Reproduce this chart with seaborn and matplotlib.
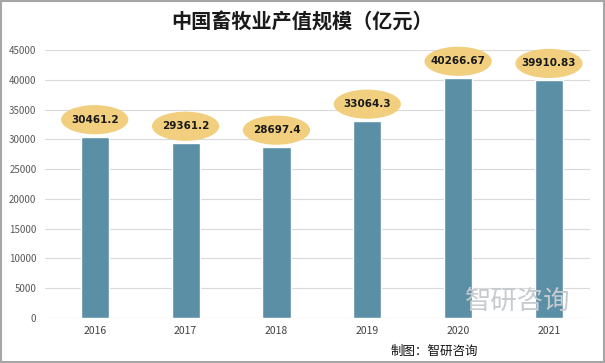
import pandas as pd
import matplotlib.pyplot as plt
import seaborn as sns
from matplotlib.patches import Ellipse, Rectangle

years = ['2016', '2017', '2018', '2019', '2020', '2021']
values = [30461.2, 29361.2, 28697.4, 33064.3, 40266.67, 39910.83]
labels = ['30461.2', '29361.2', '28697.4', '33064.3', '40266.67', '39910.83']
yticks = list(range(0, 45001, 5000))

sns.set_style('white')
plt.rcParams['font.family'] = ['Noto Sans CJK SC', 'DejaVu Sans']

df = pd.DataFrame({'year': years, 'value': values})

fig = plt.figure(figsize=(6.05, 3.63), dpi=100)
ax = fig.add_axes([0.074, 0.124, 0.901, 0.738])

sns.barplot(data=df, x='year', y='value', color='#5b8fa6', saturation=1,
            width=0.31, ax=ax, zorder=3)

ax.set_ylim(0, 45000)
ax.set_xlim(-0.55, 5.45)
ax.set_yticks(yticks)
ax.set_yticklabels([str(t) for t in yticks], fontsize=7, color='#595959')
ax.tick_params(axis='x', labelsize=7.5, colors='#404040', length=0, pad=6)
ax.tick_params(axis='y', length=0, pad=6)
ax.set_xlabel('')
ax.set_ylabel('')
ax.yaxis.grid(True, color='#d9d9d9', linewidth=0.8, zorder=0)
for s in ax.spines.values():
    s.set_visible(False)
ax.axhline(0, color='#d9d9d9', linewidth=0.8, zorder=2)

# ellipse value labels
for i, (v, lab) in enumerate(zip(values, labels)):
    cy = v + 2850
    ax.add_patch(Ellipse((i, cy), 0.74, 4900, facecolor='#f2cf7e',
                         edgecolor='none', zorder=4, clip_on=False))
    ax.text(i, cy, lab, ha='center', va='center', fontsize=7.5,
            fontweight='bold', color='#1a1a1a', zorder=5,
            family='DejaVu Sans')

fig.text(0.5, 0.94, '中国畜牧业产值规模（亿元）', ha='center', va='center',
         fontsize=14.5, fontweight='bold', color='#1a1a1a')

# watermark
fig.text(0.855, 0.17, '智研咨询', ha='center', va='center', fontsize=19,
         color='#c6cbcf', zorder=6)
fig.text(0.645, 0.032, '制图：智研咨询', ha='left', va='center', fontsize=9,
         color='#111111')

# image frame
fig.add_artist(Rectangle((0.002, 0.003), 0.996, 0.994, transform=fig.transFigure,
                         fill=False, edgecolor='#a6a6a6', linewidth=1.5))

fig.savefig('out.png', dpi=100)
